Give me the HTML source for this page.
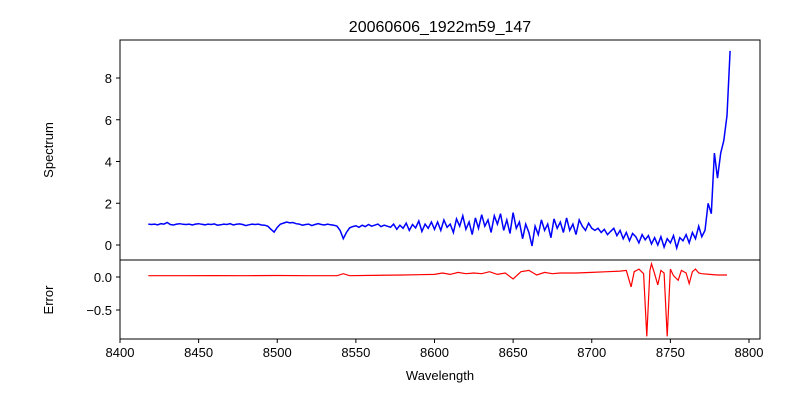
<!DOCTYPE html>
<html><head><meta charset="utf-8"><style>
body{margin:0;background:#fff}
svg text{font-family:"Liberation Sans",sans-serif;fill:#000}
</style></head><body>
<svg id="chart" width="800" height="400" xmlns="http://www.w3.org/2000/svg"></svg>
<script>
const title = "20060606_1922m59_147";
const xTicks = [8400,8450,8500,8550,8600,8650,8700,8750,8800];
const specTicks = [0,2,4,6,8];
const errTicks = [0.0,-0.5];
const specStart = 8418, specStep = 2;
const specValues = [1.0,0.98,1.0,0.97,1.02,1.0,1.08,0.98,0.96,1.0,1.02,0.99,
0.98,1.0,0.96,1.0,1.02,0.99,0.97,1.0,0.98,1.01,0.95,0.97,1.0,0.98,1.02,0.96,0.99,1.01,0.98,0.93,0.97,1.0,0.98,1.0,0.96,
0.95,0.9,0.75,0.62,0.85,1.0,1.05,1.1,1.06,1.08,
1.02,1.0,0.95,0.98,1.0,0.93,0.98,1.02,0.98,0.96,1.0,0.97,0.95,0.9,
0.7,0.3,0.6,0.82,0.88,
0.92,0.85,0.95,0.88,0.98,0.9,0.95,1.0,0.88,0.95,0.9,
0.85,1.0,0.75,0.95,0.8,1.05,0.7,0.98,0.82,1.15,0.65,1.0,0.8,1.1,0.75,
1.1,0.7,1.2,0.85,1.0,0.6,1.25,0.9,1.4,0.75,1.1,0.5,1.3,0.8,1.45,0.9,1.2,0.6,1.4,1.0,1.5,0.7,1.2,0.55,1.55,0.8,1.1,0.3,1.0,0.6,
-0.05,0.9,0.5,1.2,0.7,1.0,0.35,1.25,0.8,1.1,0.6,1.3,0.7,1.0,0.5,1.2,0.9,0.7,1.05,0.8,
0.7,0.8,0.6,0.75,0.5,0.65,0.8,0.45,0.7,0.3,0.6,0.2,0.55,0.4,0.1,0.5,0.25,0.45,0.05,0.35,
0.0,0.4,-0.1,0.3,0.1,0.45,-0.15,0.35,0.2,0.5,0.1,0.6,0.3,0.9,0.4,0.7,
2.0,1.5,4.4,3.2,4.4,5.0,6.2,9.3];
const errWave = [8418,8440,8460,8480,8500,8520,8538,8542,8546,8560,8580,8590,8600,8605,8610,8615,8620,8625,8630,8635,8640,8645,8650,8655,8660,8665,8670,8675,8680,8690,8700,8710,8718,8722,8725,8727,8730,8733,8735,8737,8738,8740,8742,8744,8746,8748,8750,8752,8755,8757,8760,8762,8764,8766,8768,8770,8775,8780,8786];
const errValues = [0.02,0.02,0.021,0.02,0.022,0.02,0.02,0.05,0.02,0.025,0.03,0.035,0.04,0.06,0.04,0.07,0.05,0.06,0.05,0.08,0.04,0.06,-0.03,0.08,0.1,0.03,0.07,0.05,0.06,0.06,0.07,0.08,0.09,0.1,-0.15,0.08,0.12,0.05,-0.9,0.1,0.2,0.05,-0.12,0.1,0.06,-0.9,0.12,0.02,-0.05,0.1,0.06,-0.1,0.08,0.12,0.06,0.05,0.04,0.03,0.03];
const svg = document.getElementById('chart');
const NS = 'http://www.w3.org/2000/svg';
const L=120,R=760,T1=40,B1=260,T2=260,B2=339;
const xs = v => L + (v-8400)*(629/400);
const ys = v => 245 - v*(167/8);
const ye = v => 277 - v*(33/0.5);
function mk(tag, attrs, parent){const e=document.createElementNS(NS,tag);for(const k in attrs)e.setAttribute(k,attrs[k]);(parent||svg).appendChild(e);return e;}
let t = mk('text',{x:440,y:32,'text-anchor':'middle','font-size':16});
t.textContent = title;


const specPath = specValues.map((v,i)=>(i?'L':'M')+xs(specStart+i*(370/(specValues.length-1))).toFixed(1)+','+ys(v).toFixed(1)).join('');
const errPath = errValues.map((v,i)=>(i?'L':'M')+xs(errWave[i]).toFixed(1)+','+ye(v).toFixed(1)).join('');
let p1 = mk('path',{d:specPath,fill:'none',stroke:'#0000ff','stroke-width':1.5});


let p2 = mk('path',{d:errPath,fill:'none',stroke:'#ff0000','stroke-width':1.2});


let f1 = mk('rect',{x:L,y:T1,width:R-L,height:B1-T1,fill:'none',stroke:'#000','stroke-width':1});


let f2 = mk('rect',{x:L,y:T2,width:R-L,height:B2-T2,fill:'none',stroke:'#000','stroke-width':1});


xTicks.forEach(v=>{const x=xs(v);mk('line',{x1:x,x2:x,y1:B2,y2:B2+4,stroke:'#000'});
 const tt=mk('text',{x:x,y:B2+18,'text-anchor':'middle','font-size':13});tt.textContent=v;
 
 });
specTicks.forEach(v=>{const y=ys(v);mk('line',{x1:L-4,x2:L,y1:y,y2:y,stroke:'#000'});
 const tt=mk('text',{x:L-8,y:y+5,'text-anchor':'end','font-size':13});tt.textContent=v;
 
 });
errTicks.forEach(v=>{const y=ye(v);mk('line',{x1:L-4,x2:L,y1:y,y2:y,stroke:'#000'});
 const tt=mk('text',{x:L-8,y:y+5,'text-anchor':'end','font-size':13});tt.textContent=v.toFixed(1).replace('-','−');
 
 });
let xl=mk('text',{x:440,y:380,'text-anchor':'middle','font-size':13});xl.textContent='Wavelength';


let yl=mk('text',{x:53,y:150,'text-anchor':'middle','font-size':13,transform:'rotate(-90 53 150)'});yl.textContent='Spectrum';


let el=mk('text',{x:53,y:300,'text-anchor':'middle','font-size':13,transform:'rotate(-90 53 300)'});el.textContent='Error';


</script>
</body></html>
